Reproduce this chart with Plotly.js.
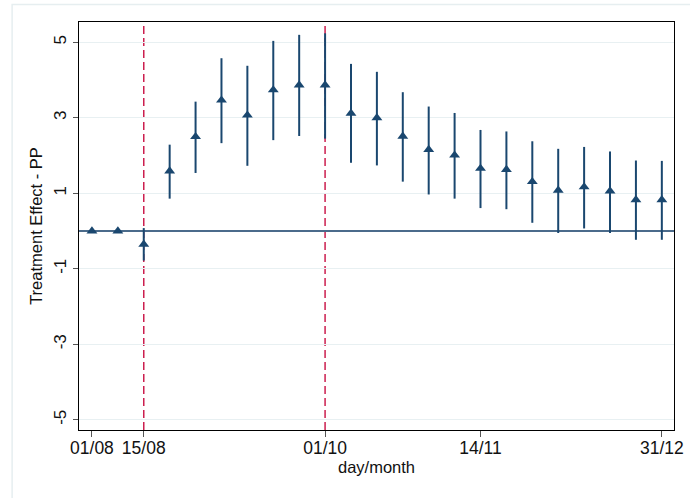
<!DOCTYPE html>
<html>
<head>
<meta charset="utf-8">
<script src="https://cdn.plot.ly/plotly-3.0.1.min.js"></script>
<style>html,body{margin:0;padding:0;background:#fff;}#chart{width:690px;height:498px;}</style>
</head>
<body>
<div id="chart"></div>
<script>
// week index (0 = 01/08)
const weeks = [0,1,2,3,4,5,6,7,8,9,10,11,12,13,14,15,16,17,18,19,20,21,22];
const effect = [0,0,-0.35,1.59,2.50,3.47,3.07,3.74,3.87,3.87,3.12,3.00,2.51,2.16,2.01,1.66,1.63,1.31,1.08,1.17,1.06,0.83,0.83];
const ciUpper = [0,0,0.08,2.29,3.43,4.58,4.38,5.04,5.20,5.24,4.43,4.22,3.68,3.30,3.13,2.68,2.64,2.38,2.18,2.23,2.11,1.87,1.86];
const ciLower = [0,0,-0.78,0.86,1.54,2.33,1.73,2.41,2.52,2.45,1.81,1.74,1.31,0.97,0.86,0.61,0.58,0.22,-0.05,0.07,-0.05,-0.23,-0.23];
const tickWeeks = [0,2,9,15,22];
const tickLabels = ['01/08','15/08','01/10','14/11','31/12'];
const eventWeeks = [2,9];
const yTicks = [-5,-3,-1,1,3,5];

const errPlus = effect.map((v,i)=>ciUpper[i]-v);
const errMinus = effect.map((v,i)=>v-ciLower[i]);

const navy = '#1a476f';
const trace = {
  x: weeks, y: effect, type: 'scatter', mode: 'markers',
  marker: {symbol: 'triangle-up', size: 9.5, color: navy},
  error_y: {type: 'data', symmetric: false, array: errPlus, arrayminus: errMinus,
            color: navy, thickness: 2, width: 0},
  showlegend: false, hoverinfo: 'x+y'
};

const shapes = [];
eventWeeks.forEach(w => shapes.push({type:'line', xref:'x', yref:'paper', x0:w, x1:w, y0:0, y1:1,
  line:{color:'#cc1f4f', width:1.5, dash:'8px,4px'}, layer:'below'}));
shapes.push({type:'line', xref:'paper', yref:'y', x0:0, x1:1, y0:0, y1:0,
  line:{color:'#4b6b8b', width:2}, layer:'below'});
// outer graph region frame
shapes.push({type:'rect', xref:'paper', yref:'paper', x0:-0.1124, x1:1.06, y0:-0.2, y1:1.043,
  line:{color:'#e6eef0', width:1.5}, fillcolor:'rgba(0,0,0,0)', layer:'below'});

const layout = {
  width: 690, height: 498,
  margin: {l:79, r:16, t:22, b:68},
  paper_bgcolor: '#ffffff', plot_bgcolor: '#ffffff',
  font: {family: 'Liberation Sans, Arial, sans-serif', color: '#000'},
  xaxis: {
    range: [-0.5, 22.47], tickvals: tickWeeks, ticktext: tickLabels,
    ticks: 'outside', ticklen: 6, tickcolor: '#555', tickwidth: 1,
    ticklabelstandoff: -4,
    showline: true, linecolor: '#000', linewidth: 1, mirror: true,
    showgrid: false, zeroline: false,
    tickfont: {size: 17.5, color: '#111'},
    title: {text: 'day/month', font: {size: 16.5, color: '#111'}, standoff: 2}
  },
  yaxis: {
    range: [-5.27, 5.54], tickvals: yTicks, ticktext: yTicks.map(String),
    tickangle: -90,
    ticks: 'outside', ticklen: 5, tickcolor: '#555', tickwidth: 1,
    showline: true, linecolor: '#000', linewidth: 1, mirror: true,
    showgrid: true, gridcolor: '#e8f0f2', gridwidth: 1, zeroline: false,
    tickfont: {size: 17, color: '#111'},
    title: {text: 'Treatment Effect - PP', font: {size: 16.5, color: '#111'}, standoff: 4}
  },
  shapes: shapes
};

Plotly.newPlot('chart', [trace], layout, {displayModeBar: false, staticPlot: true});
</script>
</body>
</html>
